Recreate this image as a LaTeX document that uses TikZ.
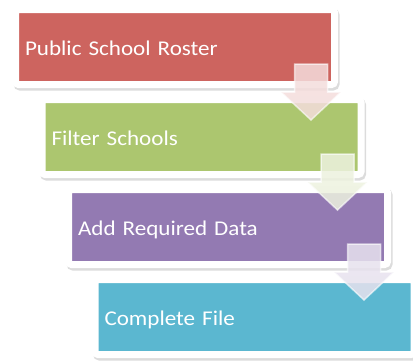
\documentclass[tikz,border=0pt]{standalone}
\usepackage{fontspec}
\setmainfont{Carlito}[FakeStretch=1.1]
\usetikzlibrary{positioning,calc}
\definecolor{stepred}{RGB}{205,100,95}
\definecolor{stepgreen}{RGB}{172,198,111}
\definecolor{steppurple}{RGB}{147,122,178}
\definecolor{stepblue}{RGB}{91,183,208}

\begin{document}
\begin{tikzpicture}[
    node distance=8pt,
    stepbox/.style={rectangle,rounded corners=3pt,fill=#1,draw=white,line width=7pt,
      minimum width=319pt,minimum height=75pt,text width=300pt,align=left,inner xsep=9.5pt,
      text height=16pt,text depth=0pt,text=white,font=\fontsize{21}{24}\selectfont,
      preaction={draw=black!30,fill=black!30,line width=7pt,opacity=0.45,
        transform canvas={shift={(1.5pt,-2.5pt)}}}},
    flow/.style={fill=#1!22!white,fill opacity=0.85,draw=white,draw opacity=0.6,line width=1.5pt}
    ]
        \useasboundingbox (0,0) rectangle (413pt,-360pt);
        \node [stepbox=stepred](roster) at (175pt,-47pt) {Public School Roster};
        \node [stepbox=stepgreen](filter) [below=of roster,xshift=26.5pt] {Filter Schools};
        \node [stepbox=steppurple](data) [below=of filter,xshift=26.5pt] {Add Required Data};
        \node [stepbox=stepblue](complete) [below=of data,xshift=26.5pt] {Complete File};
        % block arrows between the steps
        \foreach \a/\c in {roster/stepred,filter/stepgreen,data/steppurple} {
            \draw [flow=\c] ($(\a.south east)+(-43.5pt,24pt)$) -- ++(33pt,0pt) -- ++(0pt,-28pt)
                -- ++(13.5pt,0pt) -- ++(-30pt,-28pt) -- ++(-30pt,28pt) -- ++(13.5pt,0pt) -- cycle;
        }
\end{tikzpicture}
\end{document}
